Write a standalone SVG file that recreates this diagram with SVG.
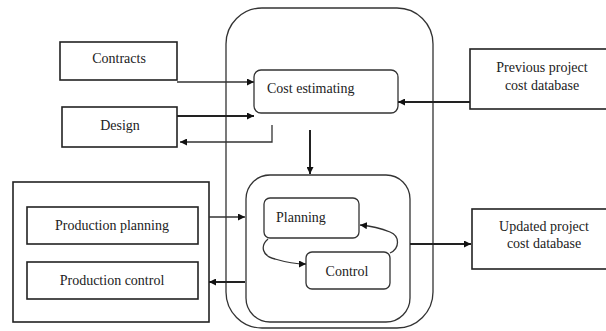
<svg xmlns="http://www.w3.org/2000/svg" width="606" height="331" viewBox="0 0 606 331">
<defs>
<style>
.box{fill:#fff;stroke:#222;stroke-width:1.6}
.rbox{fill:#fff;stroke:#333;stroke-width:1.3}
.t{font-family:"Liberation Serif","Times New Roman",serif;font-size:14px;fill:#222;text-anchor:middle}
.s{text-anchor:start}
.c{fill:none;stroke:#333;stroke-width:1.3}
.ct{fill:none;stroke:#222;stroke-width:2}
</style>
<marker id="ah" viewBox="0 0 10 10" refX="10" refY="5" markerWidth="7" markerHeight="7" markerUnits="userSpaceOnUse" orient="auto">
<path d="M0,0 L10,5 L0,10 z" fill="#111"/>
</marker>
</defs>
<rect width="606" height="331" fill="#fff"/>
<g id="outer"><rect x="226" y="8" width="207" height="320" rx="36" ry="36" class="rbox" fill="none"/></g>
<g id="inner"><rect x="246" y="175" width="164" height="147" rx="24" ry="24" class="rbox" stroke-width="1.6"/></g>
<g id="production"><rect x="13" y="182" width="196" height="140" class="box" stroke-width="1.3"/></g>
<g id="contracts"><rect x="60" y="42" width="117" height="38" class="box"/><text x="119" y="63" class="t">Contracts</text></g>
<g id="design"><rect x="62" y="107" width="115" height="40" class="box"/><text x="120" y="130" class="t">Design</text></g>
<g id="cost-estimating"><rect x="254" y="70" width="144" height="43" rx="7" class="rbox"/><text x="267" y="93" class="t s">Cost estimating</text></g>
<g id="previous-db"><rect x="470" y="49" width="140" height="60" class="box"/><text x="542" y="72" class="t">Previous project</text><text x="542" y="90" class="t">cost database</text></g>
<g id="planning"><rect x="264" y="198" width="95" height="40" rx="6" class="rbox"/><text x="276" y="222" class="t s">Planning</text></g>
<g id="control"><rect x="306" y="252" width="84" height="37" rx="6" class="rbox"/><text x="347" y="276" class="t">Control</text></g>
<g id="updated-db"><rect x="472" y="209" width="140" height="60" class="box"/><text x="544" y="231" class="t">Updated project</text><text x="544" y="248" class="t">cost database</text></g>
<g id="production-planning"><rect x="27" y="207" width="171" height="37" class="box"/><text x="112" y="230" class="t">Production planning</text></g>
<g id="production-control"><rect x="27" y="262" width="171" height="37" class="box"/><text x="112" y="285" class="t">Production control</text></g>
<g id="connectors">
<line x1="177" y1="82" x2="254" y2="82" class="c" marker-end="url(#ah)"/>
<line x1="177" y1="116" x2="254" y2="116" class="ct" marker-end="url(#ah)"/>
<polyline points="272,125 272,142 180,142" class="c" marker-end="url(#ah)"/>
<line x1="470" y1="102" x2="398" y2="102" class="ct" stroke="#666" marker-end="url(#ah)"/>
<line x1="310" y1="130" x2="310" y2="174" class="ct" stroke="#555" marker-end="url(#ah)"/>
<path d="M268,239 C260,246 262,256 275,259 C285,262 295,264 306,264" class="c" marker-end="url(#ah)"/>
<path d="M390,253 C400,248 400,236 390,232 C380,228 370,226 360,225" class="c" marker-end="url(#ah)"/>
<line x1="410" y1="244" x2="471" y2="244" class="ct" stroke="#555" marker-end="url(#ah)"/>
<line x1="209" y1="217" x2="245" y2="217" class="c" marker-end="url(#ah)"/>
<line x1="245" y1="282" x2="209" y2="282" class="ct" marker-end="url(#ah)"/>
</g>
</svg>
